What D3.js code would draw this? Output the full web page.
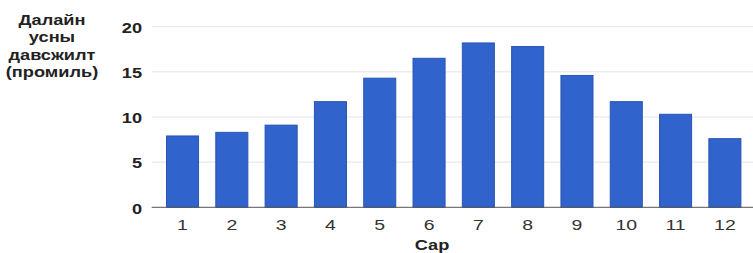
<!DOCTYPE html>
<html>
<head>
<meta charset="utf-8">
<script src="https://cdn.jsdelivr.net/npm/d3@7"></script>
<style>
body { margin: 0; background: #fff; }
svg { display: block; font-family: "Liberation Sans", Arial, sans-serif; }
</style>
</head>
<body>
<div id="vis"></div>
<script>
const WIDTH = 753;
const HEIGHT = 253;
const STRETCH = 1.3; // the reference text looks stretched sideways

const months = ["1", "2", "3", "4", "5", "6", "7", "8", "9", "10", "11", "12"];
const salinity = [7.9, 8.3, 9.1, 11.7, 14.3, 16.5, 18.2, 17.8, 14.6, 11.7, 10.3, 7.6];
const yTicks = [0, 5, 10, 15, 20];
const yTitle = ["Далайн", "усны", "давсжилт", "(промиль)"];
const xTitle = "Сар";

const svg = d3.select("#vis")
  .append("svg")
    .attr("width", WIDTH)
    .attr("height", HEIGHT);

const x = d3.scaleBand()
  .domain(months)
  .range([151.7, 755.7])
  .paddingInner(0.35)
  .paddingOuter(0.3);

const y = d3.scaleLinear()
  .domain([0, 20])
  .range([207.3, 26.7]);

function place(px, py) {
  return "translate(" + px + "," + py + ") scale(" + STRETCH + ",1)";
}

// gridlines
svg.append("g")
  .selectAll("line")
  .data(yTicks.filter(d => d > 0))
  .join("line")
    .attr("x1", 151.7)
    .attr("x2", WIDTH)
    .attr("y1", d => y(d))
    .attr("y2", d => y(d))
    .attr("stroke", "#e3e3e3")
    .attr("stroke-width", 1);

// bars
svg.append("g")
  .selectAll("rect")
  .data(salinity)
  .join("rect")
    .attr("x", (d, i) => x(months[i]))
    .attr("y", d => y(d))
    .attr("width", x.bandwidth())
    .attr("height", d => y(0) - y(d))
    .attr("fill", "#3163cc")
    .attr("stroke", "#2855b4")
    .attr("stroke-width", 1);

// baseline
svg.append("line")
  .attr("x1", 151.7)
  .attr("x2", WIDTH)
  .attr("y1", y(0))
  .attr("y2", y(0))
  .attr("stroke", "#555")
  .attr("stroke-width", 1);

// y tick labels
svg.append("g")
  .selectAll("text")
  .data(yTicks)
  .join("text")
    .attr("transform", d => place(142, y(d) + 1))
    .attr("dy", "0.38em")
    .attr("text-anchor", "end")
    .attr("font-size", 14)
    .attr("font-weight", "bold")
    .attr("fill", "#222")
    .text(d => d);

// x tick labels
svg.append("g")
  .selectAll("text")
  .data(months)
  .join("text")
    .attr("transform", d => place(x(d) + x.bandwidth() / 2, 225))
    .attr("dy", "0.36em")
    .attr("text-anchor", "middle")
    .attr("font-size", 15)
    .attr("fill", "#333")
    .text(d => d);

// x title
svg.append("text")
  .attr("transform", place(432, 250))
  .attr("text-anchor", "middle")
  .attr("font-size", 14)
  .attr("font-weight", "bold")
  .attr("fill", "#222")
  .text(xTitle);

// y title
svg.append("g")
  .selectAll("text")
  .data(yTitle)
  .join("text")
    .attr("transform", (d, i) => place(52, 20 + i * 17.3))
    .attr("dy", "0.36em")
    .attr("text-anchor", "middle")
    .attr("font-size", 14)
    .attr("font-weight", "bold")
    .attr("fill", "#222")
    .text(d => d);
</script>
</body>
</html>
